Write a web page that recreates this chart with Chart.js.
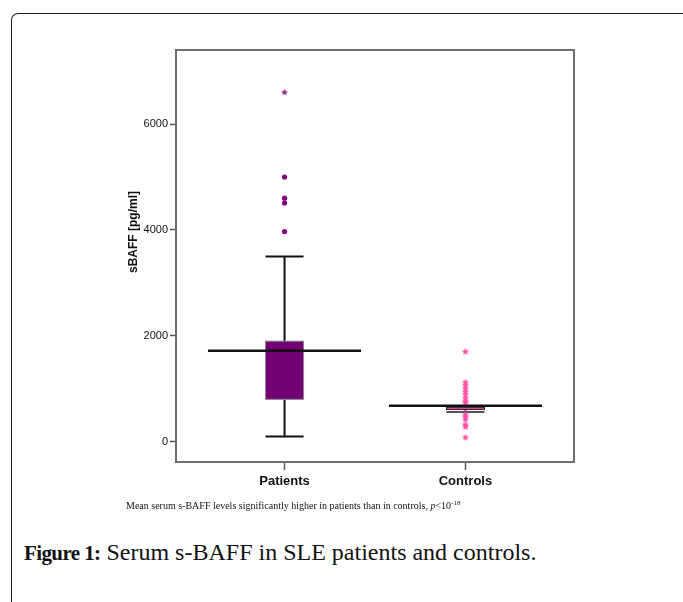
<!DOCTYPE html>
<html><head><meta charset="utf-8">
<script src="https://cdn.jsdelivr.net/npm/chart.js@4.4.0/dist/chart.umd.min.js"></script>
<style>
html,body{margin:0;padding:0;background:#fff;width:683px;height:602px;overflow:hidden;position:relative}
#frame{position:absolute;left:11px;top:13px;width:680px;height:600px;border-top:1px solid #1a1a1a;border-left:1px solid #1a1a1a;border-top-left-radius:7px}
#c{position:absolute;left:0;top:0}
#note{position:absolute;left:126px;top:500px;font:10px "Liberation Serif";color:#111;white-space:nowrap}
#note sup{font-size:7px;vertical-align:4px;line-height:0}
#cap{position:absolute;left:24px;top:539px;font:24px "Liberation Serif";color:#111;white-space:nowrap}
#cap b{font-size:21px;letter-spacing:-0.6px}
</style></head><body>
<div id="frame"></div>
<canvas id="c" width="683" height="500"></canvas>
<div id="note">Mean serum s-BAFF levels significantly higher in patients than in controls, <i>p</i>&lt;10<sup>-18</sup></div>
<div id="cap"><b>Figure 1:</b> Serum s-BAFF in SLE patients and controls.</div>
<script>
const categories = ['Patients', 'Controls'];
const positions = [1, 2];
const q1 = [800, 610];
const q3 = [1900, 650];
const whiskerLow = [100, 560];
const whiskerHigh = [3500, 675];
const means = [1720, 680];
const patientOutliers = [5000, 4600, 4510, 3970];
const patientExtremes = [6600];
const controlExtremes = [1700, 1120, 1060, 1000, 940, 890, 820, 760, 730, 510, 470, 420, 320, 280, 80];
const yTicks = [0, 2000, 4000, 6000];
const yTitle = 'sBAFF [pg/ml]';

const boxFill = ['#730073', '#ff3fa0'];
const boxStroke = ['#8a8a8a', '#222'];

function makeStar(color, r) {
  const c = document.createElement('canvas');
  const s = Math.ceil(r * 2 + 2);
  c.width = s; c.height = s;
  const g = c.getContext('2d');
  g.fillStyle = color;
  g.beginPath();
  for (let i = 0; i < 10; i++) {
    const rr = i % 2 === 0 ? r : r * 0.45;
    const a = -Math.PI / 2 + i * Math.PI / 5;
    const px = s / 2 + rr * Math.cos(a), py = s / 2 + rr * Math.sin(a);
    if (i === 0) g.moveTo(px, py); else g.lineTo(px, py);
  }
  g.closePath(); g.fill();
  return c;
}

const boxPlugin = {
  id: 'boxes',
  beforeDatasetsDraw(chart) {
    const ctx = chart.ctx, xs = chart.scales.x, ys = chart.scales.y;
    const bw = 38;
    positions.forEach((p, i) => {
      const cx = xs.getPixelForValue(p);
      const yl = ys.getPixelForValue(whiskerLow[i]);
      const yh = ys.getPixelForValue(whiskerHigh[i]);
      const y1 = ys.getPixelForValue(q1[i]);
      const y3 = ys.getPixelForValue(q3[i]);
      ctx.save();
      ctx.strokeStyle = i === 0 ? '#111' : '#555';
      ctx.lineWidth = 2;
      ctx.beginPath();
      ctx.moveTo(cx, yl); ctx.lineTo(cx, y1);
      ctx.moveTo(cx, y3); ctx.lineTo(cx, yh);
      ctx.moveTo(cx - bw / 2, yl); ctx.lineTo(cx + bw / 2, yl);
      ctx.moveTo(cx - bw / 2, yh); ctx.lineTo(cx + bw / 2, yh);
      ctx.stroke();
      ctx.fillStyle = boxFill[i];
      ctx.fillRect(cx - bw / 2, y3, bw, y1 - y3);
      ctx.strokeStyle = boxStroke[i];
      ctx.lineWidth = 1;
      ctx.strokeRect(cx - bw / 2, y3, bw, y1 - y3);
      ctx.restore();
    });
  },
  afterDatasetsDraw(chart) {
    const ctx = chart.ctx, xs = chart.scales.x, ys = chart.scales.y;
    const mw = 153;
    positions.forEach((p, i) => {
      const cx = xs.getPixelForValue(p);
      const ym = ys.getPixelForValue(means[i]);
      ctx.save();
      ctx.strokeStyle = '#111';
      ctx.lineWidth = 2.5;
      ctx.beginPath();
      ctx.moveTo(cx - mw / 2, ym); ctx.lineTo(cx + mw / 2, ym);
      ctx.stroke();
      ctx.restore();
    });
  },
  afterDraw(chart) {
    const ctx = chart.ctx, a = chart.chartArea;
    ctx.save();
    ctx.strokeStyle = '#6e6e6e';
    ctx.lineWidth = 2;
    ctx.strokeRect(a.left, a.top, a.right - a.left, a.bottom - a.top);
    ctx.translate(134, 232);
    ctx.rotate(-Math.PI / 2);
    ctx.font = 'bold 12px "Liberation Sans", Arial, sans-serif';
    ctx.fillStyle = '#111';
    ctx.textAlign = 'center';
    ctx.textBaseline = 'middle';
    ctx.fillText(yTitle, 0, 0);
    ctx.restore();
  }
};

new Chart(document.getElementById('c'), {
  type: 'scatter',
  data: {
    datasets: [
      { data: patientOutliers.map(v => ({ x: positions[0], y: v })), pointStyle: 'circle', pointRadius: 2.6, backgroundColor: '#800080', borderColor: '#800080', borderWidth: 0 },
      { data: patientExtremes.map(v => ({ x: positions[0], y: v })), pointStyle: makeStar('#8a1a8a', 3.6) },
      { data: controlExtremes.map(v => ({ x: positions[1], y: v })), pointStyle: makeStar('#ff4fa7', 3.8) }
    ]
  },
  options: {
    responsive: false,
    animation: false,
    devicePixelRatio: 1,
    layout: { padding: { left: 123, right: 109, top: 50, bottom: 0 } },
    plugins: { legend: { display: false }, tooltip: { enabled: false } },
    scales: {
      x: {
        type: 'linear', min: 0.4, max: 2.6,
        afterBuildTicks: s => { s.ticks = positions.map(v => ({ value: v })); },
        afterFit: s => { s.height = 38; },
        ticks: { autoSkip: false, maxRotation: 0, padding: 4, color: '#111',
          font: { family: '"Liberation Sans", Arial, sans-serif', size: 13, weight: 'bold' },
          callback: v => categories[positions.indexOf(Math.round(v))] },
        grid: { drawOnChartArea: false, drawTicks: true, tickLength: 8, color: '#555', tickWidth: 1.5 },
        border: { display: false }
      },
      y: {
        type: 'linear', min: -383, max: 7400,
        afterBuildTicks: s => { s.ticks = yTicks.map(v => ({ value: v })); },
        afterFit: s => { s.width = 53; },
        ticks: { padding: 2, color: '#111', font: { family: '"Liberation Sans", Arial, sans-serif', size: 11 },
          callback: v => String(v) },
        grid: { drawOnChartArea: false, drawTicks: true, tickLength: 6, color: '#555', tickWidth: 1.5 },
        border: { display: false }
      }
    }
  },
  plugins: [boxPlugin]
});
</script>
</body></html>
